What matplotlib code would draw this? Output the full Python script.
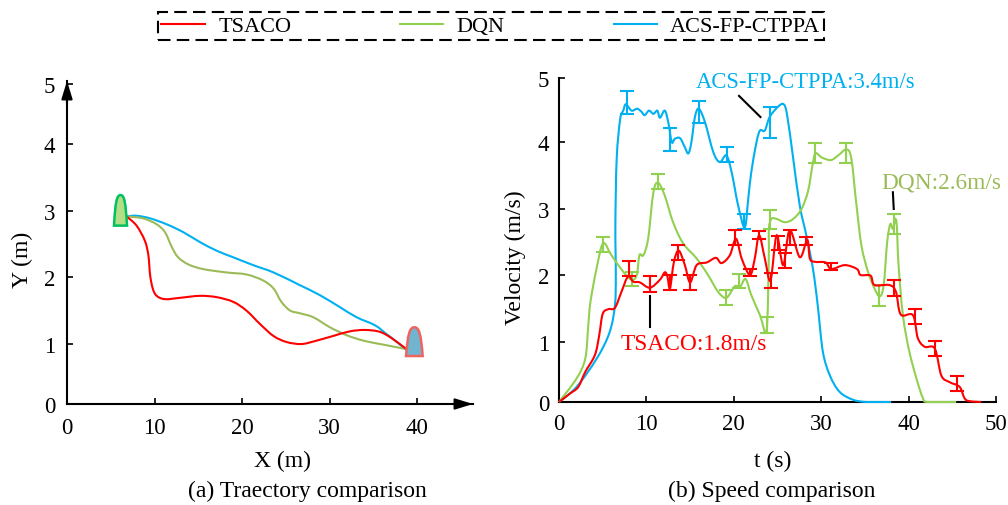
import matplotlib
matplotlib.use("Agg")
import matplotlib.pyplot as plt
import numpy as np
from matplotlib.patches import PathPatch
from matplotlib.path import Path

plt.rcParams["font.family"] = ["Liberation Serif", "DejaVu Serif"]
plt.rcParams["font.size"] = 16.5

RED = '#ff0000'
GREEN = '#92d050'
BLUE = '#00b0f0'
OLIVE = '#9bbb59'

# (a) trajectories
tsaco_x = [6.8, 7.95, 8.9, 9.3, 9.5, 9.8, 10.25, 11.2, 12.9, 15.2, 17.1, 19.0, 20.5, 22.05, 23.6, 25.1, 26.8, 28.5, 30.4, 32.35, 34.05, 35.8, 37.3, 38.75]
tsaco_y = [2.92, 2.78, 2.55, 2.33, 2.03, 1.83, 1.72, 1.67, 1.69, 1.72, 1.7, 1.63, 1.5, 1.3, 1.12, 1.03, 1.0, 1.05, 1.12, 1.19, 1.21, 1.18, 1.07, 0.92]
dqn_x = [6.8, 8.7, 10.25, 11.2, 12.0, 12.7, 13.9, 15.6, 18.25, 20.5, 22.4, 23.6, 24.5, 25.5, 26.6, 28.15, 30.05, 32.0, 33.9, 36.15, 38.6]
dqn_y = [2.92, 2.89, 2.8, 2.68, 2.45, 2.3, 2.19, 2.12, 2.07, 2.04, 1.95, 1.83, 1.63, 1.5, 1.46, 1.4, 1.25, 1.13, 1.05, 0.99, 0.92]
acs_x = [6.8, 7.95, 9.5, 11.4, 13.3, 15.2, 17.1, 19.0, 21.3, 23.6, 26.6, 28.9, 31.2, 33.1, 35.2, 36.5, 37.7, 38.8]
acs_y = [2.92, 2.93, 2.89, 2.8, 2.68, 2.53, 2.4, 2.3, 2.18, 2.07, 1.88, 1.73, 1.55, 1.4, 1.28, 1.15, 1.03, 0.9]

# (b) speed curves
tsaco_t = [0, 1.25, 2.2, 3.0, 4.1, 4.6, 5.0, 5.65, 6.4, 7.15, 7.9, 8.5, 9.25, 10.4, 11.55, 12.1, 12.4, 12.7, 13.15, 13.7, 14.4, 15.0, 15.75, 16.9, 17.95, 18.6, 19.55, 20.25, 20.9, 21.85, 22.4, 22.9, 23.55, 24.2, 24.9, 25.65, 26.4, 27.55, 28.4, 28.7, 29.25, 30.5, 31.15, 32.7, 34.1, 34.5, 35.65, 36.1, 37.8, 38.55, 39.1, 40.5, 41.05, 41.85, 43.0, 43.75, 44.7, 45.85, 46.6, 48.3]
tsaco_v = [0, 0.14, 0.25, 0.5, 0.78, 1.1, 1.42, 1.49, 1.51, 1.75, 1.98, 1.9, 1.89, 1.81, 1.93, 2.04, 1.98, 1.8, 2.2, 2.37, 2.15, 1.89, 2.15, 2.19, 2.26, 2.18, 2.3, 2.55, 2.25, 2.0, 2.25, 2.6, 2.25, 1.92, 2.6, 2.15, 2.68, 2.27, 2.53, 2.25, 2.2, 2.19, 2.09, 2.15, 2.09, 2.0, 1.99, 1.85, 1.85, 1.75, 1.41, 1.4, 1.06, 0.92, 0.89, 0.44, 0.33, 0.25, 0.03, 0]
dqn_t = [0, 2.0, 3.0, 3.35, 3.6, 4.3, 5.05, 6.0, 7.35, 8.3, 8.9, 9.2, 9.65, 10.2, 10.8, 11.35, 12.1, 13.05, 14.2, 15.75, 17.05, 18.2, 19.15, 20.1, 20.75, 21.35, 22.0, 23.0, 23.75, 24.0, 24.02, 24.3, 24.9, 25.85, 26.8, 27.75, 28.5, 29.0, 29.35, 30.05, 31.1, 31.95, 32.9, 33.45, 34.0, 34.6, 35.35, 36.1, 36.7, 37.15, 37.55, 37.9, 38.2, 38.6, 38.85, 39.35, 40.1, 40.9, 41.65, 42.2, 45.45]
dqn_v = [0, 0.39, 0.72, 1.25, 1.6, 2.1, 2.48, 2.3, 2.05, 1.93, 2.0, 2.3, 2.3, 2.55, 3.25, 3.39, 3.2, 2.8, 2.48, 2.25, 2.0, 1.75, 1.66, 1.83, 1.83, 1.94, 1.7, 1.4, 1.17, 2.25, 2.7, 2.85, 2.85, 2.8, 2.85, 3.0, 3.27, 3.65, 3.83, 3.77, 3.73, 3.8, 3.89, 3.75, 3.1, 2.45, 2.05, 1.8, 1.68, 1.85, 2.5, 2.77, 2.7, 2.82, 2.15, 1.4, 0.83, 0.39, 0.06, 0, 0]
acs_t = [0, 2.0, 4.3, 5.8, 6.4, 6.5, 6.45, 6.6, 7.0, 7.35, 7.65, 8.3, 8.95, 9.45, 9.8, 10.3, 10.8, 11.25, 11.55, 12.1, 12.5, 12.9, 13.25, 13.85, 14.4, 14.8, 15.15, 15.55, 16.0, 16.7, 17.65, 18.4, 19.15, 19.75, 20.5, 21.25, 21.65, 22.0, 22.6, 23.0, 23.55, 24.1, 25.05, 25.7, 26.1, 26.8, 27.55, 28.3, 29.05, 29.6, 30.2, 31.0, 32.1, 33.6, 35.2, 38.0]
acs_v = [0, 0.25, 0.72, 1.15, 1.55, 2.0, 2.75, 3.75, 4.36, 4.49, 4.59, 4.49, 4.52, 4.47, 4.42, 4.49, 4.44, 4.49, 4.38, 4.49, 4.31, 4.0, 4.05, 4.06, 3.92, 3.83, 4.0, 4.39, 4.52, 4.31, 3.85, 3.7, 3.8, 3.55, 3.05, 2.72, 3.15, 3.55, 4.0, 4.18, 4.18, 4.39, 4.55, 4.59, 4.42, 3.75, 3.05, 2.6, 2.1, 1.55, 0.83, 0.44, 0.17, 0.04, 0, 0]

# error bars: position, low, high
tsaco_err_t = [8.05, 10.4, 12.7, 13.65, 15.0, 20.1, 21.85, 22.9, 24.2, 25.1, 25.85, 26.4, 28.3, 31.15, 38.3, 40.7, 43.05, 45.55]
tsaco_err_lo = [1.98, 1.75, 1.78, 2.23, 1.78, 2.46, 1.98, 2.55, 1.8, 2.38, 2.1, 2.45, 2.46, 2.07, 1.69, 1.27, 0.76, 0.18]
tsaco_err_hi = [2.21, 1.98, 2.0, 2.45, 2.0, 2.68, 2.09, 2.66, 2.03, 2.59, 2.33, 2.68, 2.58, 2.18, 1.93, 1.5, 1.01, 0.44]
dqn_err_t = [5.05, 8.3, 11.3, 19.15, 20.6, 23.75, 24.1, 29.25, 32.8, 36.6, 38.3]
dqn_err_lo = [2.35, 1.83, 3.3, 1.55, 1.8, 1.13, 2.7, 3.69, 3.69, 1.53, 2.62]
dqn_err_hi = [2.57, 2.05, 3.52, 1.77, 2.02, 1.37, 2.98, 3.98, 3.98, 1.85, 2.92]
acs_err_t = [7.75, 12.7, 16.0, 19.25, 21.2, 24.1]
acs_err_lo = [4.43, 3.87, 4.29, 3.7, 2.7, 4.07]
acs_err_hi = [4.79, 4.22, 4.64, 3.92, 2.92, 4.54]

W, H = 1008, 506
fig = plt.figure(figsize=(W / 100, H / 100), dpi=100)


def px_axes(x0, x1, y_bottom, y_top):
    return fig.add_axes([x0 / W, 1 - y_bottom / H, (x1 - x0) / W, (y_bottom - y_top) / H])


def px_text(x, y, s, **kw):
    fig.text(x / W, 1 - y / H, s, ha='center', va='center', **kw)


def make_scale(ax, pixels):
    # the y ticks in the picture are not evenly spaced
    labels = [0, 1, 2, 3, 4, 5, 6]
    ax.set_yscale('function', functions=(lambda v: np.interp(v, labels, pixels),
                                         lambda p: np.interp(p, pixels, labels)))


def smooth_line(ax, x, y, color, zorder):
    # bezier through the read points, the source curves are smoothed
    p = np.column_stack([x, y])
    prev = np.vstack([p[0], p[:-1]])
    nxt = np.vstack([p[1:], p[-1]])
    verts = [p[0]]
    codes = [Path.MOVETO]
    for i in range(len(p) - 1):
        verts += [p[i] + (nxt[i] - prev[i]) / 6, p[i + 1] - (nxt[i + 1] - prev[i + 1]) / 6, p[i + 1]]
        codes += [Path.CURVE4] * 3
    ax.add_patch(PathPatch(Path(verts, codes), fill=False, edgecolor=color, lw=1.5, zorder=zorder, clip_on=False))


def bullet(ax, x0, x1, y0, y1, face, edge):
    xm = (x0 + x1) / 2
    verts = [(x0, y0), (x0 + 0.1 * (x1 - x0), y0 + 0.75 * (y1 - y0)), (xm - 0.3 * (x1 - x0), y1), (xm, y1),
             (xm + 0.3 * (x1 - x0), y1), (x1 - 0.1 * (x1 - x0), y0 + 0.75 * (y1 - y0)), (x1, y0), (x0, y0)]
    codes = [Path.MOVETO, Path.CURVE4, Path.CURVE4, Path.CURVE4, Path.CURVE4, Path.CURVE4, Path.CURVE4, Path.CLOSEPOLY]
    ax.add_patch(PathPatch(Path(verts, codes), facecolor=face, edgecolor=edge, lw=1.8, zorder=4))


def arrow(ax, tip, tail):
    ax.annotate('', xy=tip, xytext=tail, xycoords='axes fraction', annotation_clip=False,
                arrowprops=dict(arrowstyle='-|>,head_length=0.65,head_width=0.2', color='k', lw=1.5,
                                shrinkA=0, shrinkB=0))


# ---- (a) ----
ax1 = px_axes(67, 473, 405, 82)
make_scale(ax1, [0, 60, 127, 193, 260, 320, 384])
smooth_line(ax1, acs_x, acs_y, BLUE, 2)
smooth_line(ax1, dqn_x, dqn_y, OLIVE, 2)
smooth_line(ax1, tsaco_x, tsaco_y, RED, 3)
bullet(ax1, 5.37, 6.86, 2.78, 3.24, '#b4de86', '#00c060')
bullet(ax1, 38.75, 40.65, 0.8, 1.25, '#70b4cf', '#f0645f')
ax1.set_xlim(0, 46.4)
ax1.set_ylim(0, 5.05)
ax1.set_xticks([0, 10, 20, 30, 40])
ax1.set_yticks([0, 1, 2, 3, 4, 5])
ax1.tick_params(axis='both', direction='in', length=4, width=1.2, labelsize=16.5)
ax1.tick_params(axis='x', pad=9)
ax1.tick_params(axis='y', pad=8.5)
arrow(ax1, (1, 0), (0.95, 0))
arrow(ax1, (0, 1), (0, 0.93))

# ---- (b) ----
ax2 = px_axes(559, 996, 403, 79)
make_scale(ax2, [0, 60, 127, 193, 260, 324, 388])
smooth_line(ax2, acs_t, acs_v, BLUE, 2)
smooth_line(ax2, dqn_t, dqn_v, GREEN, 2.2)
smooth_line(ax2, tsaco_t, tsaco_v, RED, 2.4)
for t, lo, hi, c, z in [(acs_err_t, acs_err_lo, acs_err_hi, BLUE, 2.1),
                        (dqn_err_t, dqn_err_lo, dqn_err_hi, GREEN, 2.3),
                        (tsaco_err_t, tsaco_err_lo, tsaco_err_hi, RED, 2.5)]:
    lo = np.array(lo)
    ax2.errorbar(t, lo, yerr=[np.zeros(len(lo)), np.array(hi) - lo], fmt='none', ecolor=c,
                 elinewidth=1.5, capsize=5, capthick=1.5, zorder=z)
ax2.plot([10.4, 10.4], [1.69, 1.22], color='k', lw=1.5)
ax2.plot([38.2, 38.3], [3.25, 3.0], color='k', lw=1.5)
ax2.plot([20.6, 23.05], [4.72, 4.39], color='k', lw=1.5)
ax2.set_xlim(0, 50)
ax2.set_ylim(0, 5)
ax2.set_xticks([0, 10, 20, 30, 40, 50])
ax2.set_yticks([0, 1, 2, 3, 4, 5])
ax2.tick_params(axis='both', direction='in', length=4, width=1.2, labelsize=16.5)
ax2.tick_params(axis='x', pad=8)
ax2.tick_params(axis='y', pad=7)

for ax in (ax1, ax2):
    ax.spines['top'].set_visible(False)
    ax.spines['right'].set_visible(False)
    ax.spines['left'].set_linewidth(1.5)
    ax.spines['bottom'].set_linewidth(1.5)
    ax.spines['left'].set_zorder(1.5)
    ax.spines['bottom'].set_zorder(1.5)
    ax.patch.set_alpha(0)

# text
px_text(283, 461, 'X (m)', fontsize=17)
px_text(22, 260, 'Y (m)', fontsize=17, rotation=90)
px_text(773, 461, 't (s)', fontsize=17)
px_text(515, 258, 'Velocity (m/s)', fontsize=17, rotation=90)
px_text(307, 491, '(a) Traectory comparison', fontsize=17)
px_text(772, 491, '(b) Speed comparison', fontsize=17)
px_text(694, 345, 'TSACO:1.8m/s', fontsize=16.8, color=RED)
px_text(941, 183, 'DQN:2.6m/s', fontsize=16.8, color=OLIVE)
px_text(806, 83, 'ACS-FP-CTPPA:3.4m/s', fontsize=16.3, color=BLUE)

# legend
handles = [plt.Line2D([], [], color=RED, lw=1.5), plt.Line2D([], [], color=GREEN, lw=1.5),
           plt.Line2D([], [], color=BLUE, lw=1.5)]
leg = fig.legend(handles, ['TSACO', 'DQN', 'ACS-FP-CTPPA'], ncols=3, loc='center',
                 bbox_to_anchor=(491 / W, 1 - 27 / H), fontsize=16, fancybox=False, framealpha=1,
                 edgecolor='k', handlelength=1.95, handletextpad=0.6, columnspacing=4.9, borderpad=0.16,
                 borderaxespad=0)
leg.get_frame().set_linestyle((0, (6, 3)))
leg.get_frame().set_linewidth(1.5)

fig.savefig('out.png', dpi=100)
